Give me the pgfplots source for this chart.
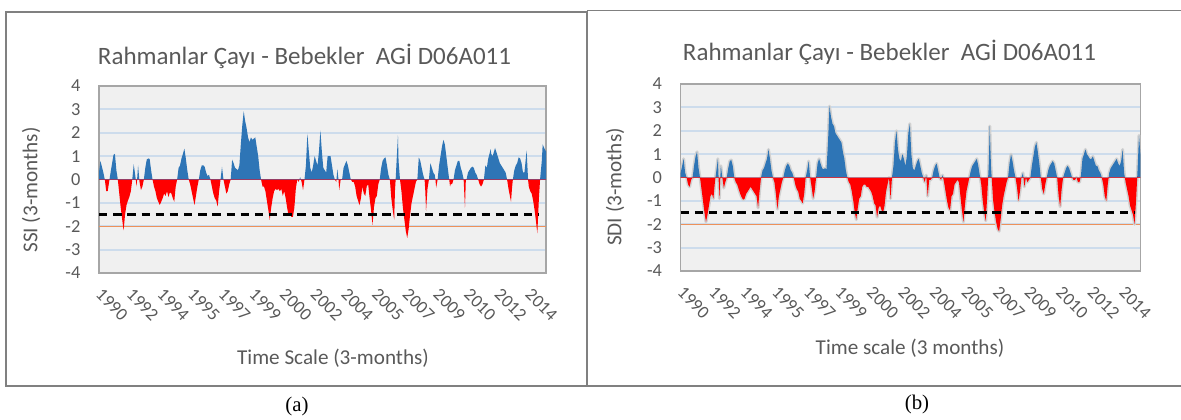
\documentclass[border=0pt]{standalone}
\usepackage{pgfplots}
\pgfplotsset{compat=1.18}
\usepackage{pgfplotstable}
\usepackage{fontspec}
\setmainfont{Carlito}
\newfontfamily\seriffont{Liberation Serif}
\definecolor{ssiblue}{RGB}{46,117,182}
\definecolor{txtgray}{RGB}{89,89,89}
\definecolor{gridblue}{RGB}{205,220,236}
\definecolor{orangeline}{RGB}{237,145,90}
\definecolor{framegray}{RGB}{128,128,128}
\definecolor{zeroline}{RGB}{150,60,100}

% SSI (3-months), month index 0 = start of 1990
\pgfplotstableread{
m v
0 0.3
1 0.8
3 0.3
4 0
5 -0.5
6 -0.5
7 -0.1
8 0.3
10 1.05
11 1.1
12 0.4
13 0
14 -0.6
15 -1.2
16 -1.7
17 -2.18
18 -1.5
19 -1.1
20 -0.9
21 -0.74
22 -0.5
23 0
24 0.65
25 0.2
26 -0.3
27 0.6
28 -0.1
29 -0.45
30 -0.3
31 0
32 0.5
33 0.85
34 0.9
35 0.88
36 0.4
37 0
38 -0.3
39 -0.5
40 -0.8
41 -0.95
42 -1.09
43 -0.95
44 -0.8
45 -0.6
46 -0.7
47 -0.5
48 -0.75
49 -0.55
50 -0.6
51 -0.8
52 -0.95
53 -0.3
54 0
55 0.5
56 0.6
57 0.9
58 1.1
59 1.32
60 0.9
61 0.4
62 0
63 -0.2
64 -0.5
65 -0.8
66 -1.09
67 -0.7
68 -0.3
69 0
70 0.4
71 0.6
72 0.61
73 0.55
74 0.3
75 0.15
76 0.2
77 0
78 -0.3
79 -0.6
80 -0.8
81 -0.9
82 -1.16
83 -0.5
84 0
85 0.54
86 0
87 -0.3
88 -0.6
89 -0.5
90 -0.2
91 0
92 0.85
93 0.7
94 0.5
95 0.45
96 0.4
97 0.6
98 1.5
99 2.3
100 2.92
101 2.5
102 2.2
103 1.8
104 1.6
105 1.8
106 1.7
107 1.75
108 1.8
109 1.4
110 1.0
111 0.4
112 0
113 -0.3
114 -0.3
115 -0.5
116 -0.9
117 -1.3
118 -1.73
119 -1.2
120 -0.8
121 -0.5
122 -0.4
123 -0.45
124 -0.4
125 -0.5
126 -0.4
127 -0.7
128 -0.5
129 -0.8
130 -1.2
131 -1.55
132 -1.5
133 -1.6
134 -1.6
135 -1.2
136 -0.4
137 0
138 -0.1
139 0.1
140 -0.1
141 -0.45
142 0
143 0.6
144 1.96
145 1.2
146 0.5
147 0.3
148 0.6
149 1.0
150 0.8
151 0.6
152 1.2
153 2.1
154 1.2
155 0.5
156 0.4
157 0.3
158 1.0
159 1.0
160 1.0
161 0.6
162 0.2
163 0
164 -0.1
164.7 0.45
165.5 0
166 -0.45
167 0
168 0
169 0.5
171 0.8
172 0.6
173 0.3
174 0
175 -0.1
176 -0.1
177 -0.3
178 -0.7
179 -0.9
180 -1.1
181 -0.8
182 -0.3
183 -0.6
184 -0.7
185 -0.3
186 -0.2
187 -0.8
188 -1.3
189 -1.94
190 -1.2
191 -0.8
192 -0.7
193 -0.2
194 0
195 0.5
196 0.8
197 0.9
198 0.95
199 0.6
200 0.2
201 0
202 -0.8
203 -1.3
204 -1.73
204.5 -0.5
205 0
206 1.2
206.6 1.89
207 0.8
208 0
209 -0.5
210 -1.2
211 -1.7
212 -2.2
213 -2.5
214 -2.1
215 -1.5
216 -1.0
217 -0.7
218 -0.4
219 -0.1
220 0
221 0.95
222 0.8
223 0.5
224 0.2
225 0
225.5 -0.5
226 -1.35
227 -0.4
228 0
229 0.7
230 0.5
231 0.3
232 0.2
232.5 0
233 -0.35
234 0
235 0.6
236 1.0
237 1.4
238 1.7
239 1.5
240 1.0
241 0.5
242 0
242.6 -0.3
243 -0.2
244 -0.2
245 0
246 0.4
247 0.6
248 0.8
249 0.8
250 0.5
251 0.3
252 0
252.9 -1.2
253.5 0
254 0
255 0.3
256 0.4
257 0.5
258 0.55
259 0.5
260 0.3
261 0.2
262 0
263 -0.2
264 -0.3
265 -0.2
266 0
267 0.6
268 0.5
269 0.9
270.7 1.3
271 1.1
272 1.0
273 1.2
273.7 1.35
275 1.1
276 0.9
277 0.7
278 0.6
279 0.5
280 0.4
281 0.3
282 0
283 -0.4
284.7 -0.95
285.5 -0.3
286 0
287 0.4
288 0.6
289 0.7
290 0.95
291 0.9
292 0.7
293 0.3
294 0.3
295.5 1.25
296.5 0
297 -0.3
298 -0.5
299 -0.6
300 -0.9
301 -1.3
302 -1.8
302.9 -2.3
303.5 -1.5
304 -0.8
304.8 0
306 0.8
306.6 1.5
308 1.3
308.9 1.2
}\dataA

% SDI (3-months)
\pgfplotstableread{
m v
0 0.2
1 0.5
2 0.8
3 0.2
4 0
5 -0.3
6 -0.4
7 -0.1
8 0
9 0.5
10 0.9
11 1.1
12 0.4
13 0
14 -0.5
15 -1.0
16 -1.5
17 -1.9
18 -1.6
19 -1.2
20 -0.8
21 -0.7
22 -0.9
23 -0.2
24 0.3
25 0.8
26 -0.9
27 0.5
28 0
29 -0.45
30 -0.2
31 0
32 0.4
33 0.7
34 0.75
35 0.5
36 0
37 -0.2
38 -0.3
39 -0.5
40 -0.7
41 -0.85
42 -0.95
43 -0.9
44 -0.7
45 -0.6
46 -0.5
47 -0.4
48 -0.5
49 -0.6
50 -0.7
51 -0.8
52 -1.3
53 -0.6
54 0
55 0.3
56 0.4
57 0.6
58 0.8
59 1.2
60 0.8
61 0.3
62 0
63 -0.2
64 -0.7
65 -1.35
66 -0.8
67 -0.5
68 -0.2
69 0
70 0.3
71 0.5
72 0.6
73 0.5
74 0.3
75 0.2
76 0
77 -0.3
78 -0.5
79 -0.6
80 -0.9
81 -1.0
82 -1.1
83 -0.7
84 0
85 0.3
86 0.7
87 0
88 -0.4
89 -0.9
90 -0.6
91 0
92 0.6
93 0.8
94 0.6
95 0.4
96 0.35
97 0.4
98 0.35
99 1.5
100 3.05
101 2.6
102 2.3
103 2.2
104 1.9
105 1.8
106 1.7
107 1.6
108 1.5
109 1.1
110 0.8
111 0.3
112 0
113 -0.2
114 -0.3
115 -0.6
116 -1.0
117 -1.5
118 -1.8
119 -1.3
120 -0.9
121 -0.8
122 -0.4
123 -0.3
124 -0.3
125 -0.4
126 -0.4
127 -0.5
128 -0.6
129 -0.8
130 -1.1
131 -1.2
132 -1.7
133 -1.3
134 -1.2
135 -1.4
136 -1.5
137 -1.2
138 -0.6
139 -0.3
140 0
141 -0.9
142 0
143 0.5
144 1.5
145 2.0
146 1.2
147 0.8
148 0.7
149 1.0
150 0.8
151 0.5
152 0.9
153 1.9
154 2.3
155 1.0
156 0.4
157 0.3
158 0.5
159 0.7
160 0.8
161 0.5
162 0.2
163 0
164 -0.2
165 0.1
166 -0.8
167 -0.1
168 -0.1
169 0
170 0.3
171 0.5
172 0.6
173 0.3
174 0
175 -0.1
176 0.1
177 -0.2
178 -0.6
179 -1.0
180 -1.3
181 -1.4
182 -0.8
183 -0.7
184 -0.3
185 -0.2
186 -0.1
187 -0.2
188 -0.8
189 -1.4
190 -1.9
191 -1.2
192 -0.6
193 -0.3
194 0
195 0.3
196 0.5
197 0.6
198 0.7
199 0.8
200 0.5
201 0.1
202 -0.3
203 -1.0
204 -1.5
205 -1.85
206 -0.8
207 0.5
207.7 2.2
208.5 0.5
209 0
210 -1.0
211 -1.5
212 -1.9
213 -2.2
214 -2.3
215 -1.8
216 -1.2
217 -0.8
218 -0.5
219 -0.2
220 0
221 0.6
222 1.0
223 0.7
224 0.3
225 0
226 -0.4
227 -1.0
228 -0.6
229 0
230 0.2
231 -0.4
232 0
233 -0.2
234 -0.1
235 0
236 0.5
237 0.9
238 1.3
239 1.5
240 1.1
241 0.6
242 0
243 -0.5
244 -0.7
245 -0.3
246 0
247 0.3
248 0.5
249 0.6
250 0.7
251 0.6
252 0.3
253 0
254 -0.8
255 -1.25
256 -0.5
257 0
258 0.2
259 0.4
260 0.5
261 0.4
262 0.2
263 0
264 -0.1
265 -0.1
266 0
267 -0.2
268 -0.2
269 0.1
270 0.8
271 1.0
272 1.2
273 1.0
274 0.9
275 0.8
276 0.8
277 0.9
278 0.7
279 0.5
280 0.5
281 0.3
282 0.2
283 0
284 -0.3
285 -0.8
286 -1.0
287 -0.3
288 0.2
289 0.4
290 0.5
291 0.6
292 0.7
293 0.8
294 0.6
295 0.5
296 0.7
297 1.2
298 0.2
299 -0.2
300 -0.5
301 -0.8
302 -1.2
303 -1.4
304 -1.6
305 -2.0
306 -1.0
307 0.3
308 1.8
308.9 1.0
}\dataB

\pgfplotsset{
  spi/.style={
    scale only axis, height=112.2pt,
    xmin=0, xmax=308.9, ymin=-4, ymax=4,
    ytick={-4,-3,-2,-1,0,1,2,3,4},
    xtick={0,21.2,42.4,63.6,84.8,106,127.2,148.4,169.6,190.8,212,233.2,254.4,275.6,296.8},
    xticklabels={1990,1992,1994,1995,1997,1999,2000,2002,2004,2005,2007,2009,2010,2012,2014},
    major tick length=0pt,
    ymajorgrids,
    major grid style={gridblue, line width=1.1pt},
    axis line style={black!35, line width=0.7pt},
    axis background/.style={fill=black!6},
    /pgf/number format/assume math mode=true,
    yticklabel style={font=\fontsize{11}{13}\selectfont, text=txtgray, inner sep=0pt, xshift=-11pt},
    xticklabel style={font=\fontsize{10.8}{12}\selectfont, text=txtgray, yshift=-8.5pt, xshift=2.5pt, rotate=-45, anchor=north west, inner sep=0pt},
  }
}

\begin{document}
\begin{tikzpicture}
\path[use as bounding box] (0pt,0pt) rectangle (708.6pt,-251.4pt);

% frames
\draw[framegray, line width=0.9pt] (3.6pt,-7.2pt) rectangle (352.2pt,-231.6pt);
\draw[framegray, line width=0.9pt] (352.2pt,-6.4pt) -- (708.6pt,-6.4pt);
\draw[framegray, line width=0.9pt] (352.2pt,-231.6pt) -- (708.6pt,-231.6pt);

% ---------- panel (a)
\begin{axis}[spi, at={(59.4pt,-163.8pt)}, anchor=south west, width=268.2pt]
  \addplot[orangeline, line width=0.8pt] coordinates {(0,-2) (308.9,-2)};
  \begin{scope}
    \clip (rel axis cs:0,0.5) rectangle (rel axis cs:1,1);
    \addplot[fill=ssiblue, draw=none] table[x=m, y=v] {\dataA} \closedcycle;
  \end{scope}
  \begin{scope}
    \clip (rel axis cs:0,0) rectangle (rel axis cs:1,0.5);
    \addplot[fill=red, draw=none] table[x=m, y=v] {\dataA} \closedcycle;
  \end{scope}
  \addplot[zeroline, line width=0.6pt] coordinates {(0,0) (308.9,0)};
  \addplot[black, line width=1.4pt, dash pattern=on 5pt off 3.5pt] coordinates {(0,-1.5) (304,-1.5)};
\end{axis}

% ---------- panel (b)
\begin{axis}[spi, at={(408.4pt,-162.6pt)}, anchor=south west, width=275.8pt]
  \addplot[orangeline, line width=0.8pt] coordinates {(0,-2) (308.9,-2)};
  \addplot[black!18, line width=1.8pt, line join=round] table[x=m, y=v] {\dataB};
  \begin{scope}
    \clip (rel axis cs:0,0.5) rectangle (rel axis cs:1,1);
    \addplot[fill=ssiblue, draw=none] table[x=m, y=v] {\dataB} \closedcycle;
  \end{scope}
  \begin{scope}
    \clip (rel axis cs:0,0) rectangle (rel axis cs:1,0.5);
    \addplot[fill=red, draw=none] table[x=m, y=v] {\dataB} \closedcycle;
  \end{scope}
  \addplot[black, line width=1.4pt, dash pattern=on 5pt off 3.5pt] coordinates {(0,-1.5) (305,-1.5)};
\end{axis}

% titles and labels
\node[anchor=base, text=txtgray, font=\fontsize{15}{18}\selectfont] at (182.7pt,-39pt) {Rahmanlar Çayı - Bebekler\ \ AGİ D06A011};
\node[anchor=base, text=txtgray, font=\fontsize{15}{18}\selectfont] at (533.7pt,-36.6pt) {Rahmanlar Çayı - Bebekler\ \ AGİ D06A011};
\node[rotate=90, text=txtgray, font=\fontsize{12.7}{15}\selectfont] at (18.6pt,-114pt) {SSI (3-months)};
\node[rotate=90, text=txtgray, font=\fontsize{12.7}{15}\selectfont] at (369pt,-112.2pt) {SDI (3-moths)};
\node[text=txtgray, font=\fontsize{12.7}{15}\selectfont] at (199.8pt,-214.8pt) {Time Scale (3-months)};
\node[text=txtgray, font=\fontsize{12.7}{15}\selectfont] at (546pt,-208.8pt) {Time scale (3 months)};
\node[font=\seriffont\fontsize{12.5}{15}\selectfont] at (178.2pt,-243.6pt) {(a)};
\node[font=\seriffont\fontsize{12.5}{15}\selectfont] at (550.2pt,-242.4pt) {(b)};
\end{tikzpicture}
\end{document}
